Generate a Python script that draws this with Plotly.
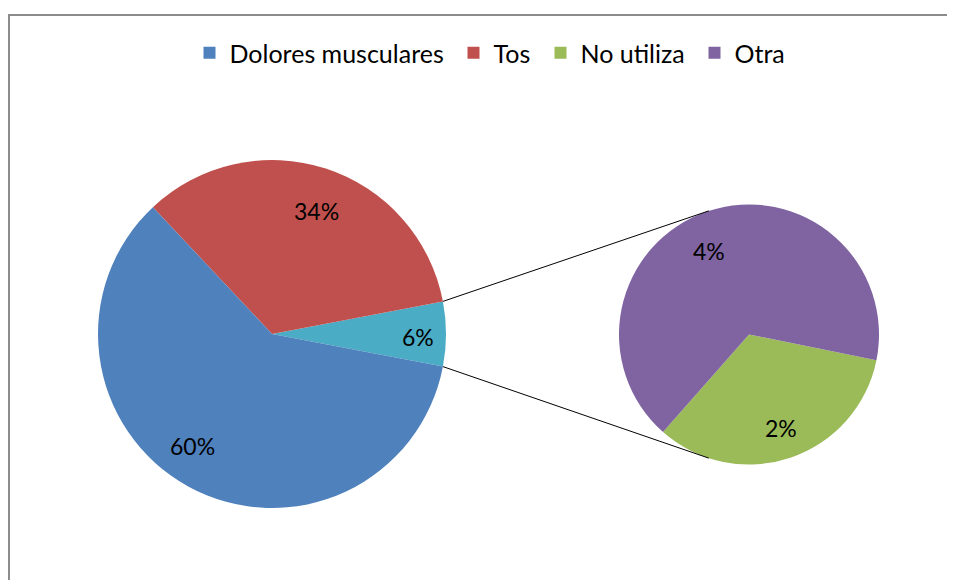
import math
import plotly.graph_objects as go

# ---------------- data ----------------
main_labels = ["Otros", "Tos", "Dolores musculares"]
main_values = [6, 34, 60]
main_colors = ["#4BACC6", "#C0504D", "#4F81BD"]

sec_labels = ["No utiliza", "Otra"]
sec_values = [2, 4]
sec_colors = ["#9BBB59", "#8064A2"]

legend_labels = ["Dolores musculares", "Tos", "No utiliza", "Otra"]
legend_colors = ["#4F81BD", "#C0504D", "#9BBB59", "#8064A2"]

# ---------------- layout geometry (page pixels) ----------------
OFF = 8                    # default page margin around the plot div
W, H = 947, 572            # figure size (fits the 955x580 window)
MAIN_C, MAIN_R = (272.0, 334.0), 174.0
SEC_C, SEC_R = (749.0, 334.5), 130.0
SEC_START = 228.6          # math angle where the secondary pie starts (ccw)
CONNECT_ANGLE = 108.0      # where connector lines meet the secondary pie
FONT = "Lato"
LEG_SQ_X = [210, 474, 561, 715]   # legend square centres
LEG_Y = 53

# label placement (radial fraction, angle tweak in degrees)
main_lab_frac = [0.84, 0.75, 0.79]
main_lab_tweak = [-1.0, -2.0, -6.5]
sec_lab_frac = [0.76, 0.71]
sec_lab_tweak = [0.0, 7.0]


def px_to_paper(x, y):
    return (x - OFF) / W, 1 - (y - OFF) / H


def domain(c, r):
    x0, y1 = px_to_paper(c[0] - r, c[1] - r)
    x1, y0 = px_to_paper(c[0] + r, c[1] + r)
    return dict(x=[x0, x1], y=[y0, y1])


def ccw_rotation(start_math, first_value, total):
    # plotly: for counterclockwise pies, rotation is where the first slice ends
    span0 = first_value / total * 360
    r = 90 - start_math - span0
    while r < -360:
        r += 360
    while r > 360:
        r -= 360
    return r


main_total = sum(main_values)
sec_total = sum(sec_values)
other_share = main_values[0] / main_total
main_start = -other_share * 360 / 2  # "other" slice centred on the horizontal

fig = go.Figure()

fig.add_trace(go.Pie(
    labels=main_labels, values=main_values, sort=False,
    direction="counterclockwise",
    rotation=ccw_rotation(main_start, main_values[0], main_total),
    marker=dict(colors=main_colors, line=dict(width=0)),
    textinfo="none", hoverinfo="label+percent", showlegend=False,
    domain=domain(MAIN_C, MAIN_R),
))

fig.add_trace(go.Pie(
    labels=sec_labels, values=sec_values, sort=False,
    direction="counterclockwise",
    rotation=ccw_rotation(SEC_START, sec_values[0], sec_total),
    marker=dict(colors=sec_colors, line=dict(width=0)),
    textinfo="none", hoverinfo="label", showlegend=False,
    domain=domain(SEC_C, SEC_R),
))

legend_names = ["legend", "legend2", "legend3", "legend4"]
for lab, col, lg in zip(legend_labels, legend_colors, legend_names):
    fig.add_trace(go.Scatter(
        x=[None], y=[None], mode="markers", name=lab, legend=lg,
        marker=dict(symbol="square", size=12, color=col),
    ))

annotations = []


def add_labels(values, total, start, center, r, fracs, tweaks):
    cum = start
    for v, f, t in zip(values, fracs, tweaks):
        span = v / total * 360
        mid = math.radians(cum + span / 2 + t)
        x = center[0] + f * r * math.cos(mid)
        y = center[1] - f * r * math.sin(mid)
        px, py = px_to_paper(x, y)
        annotations.append(dict(
            x=px, y=py, xref="paper", yref="paper",
            xanchor="center", yanchor="middle",
            text=f"{round(v / main_total * 100)}%", showarrow=False,
            font=dict(family=FONT, size=23, color="#000000"),
        ))
        cum += span


add_labels(main_values, main_total, main_start, MAIN_C, MAIN_R,
           main_lab_frac, main_lab_tweak)
add_labels(sec_values, sec_total, SEC_START, SEC_C, SEC_R,
           sec_lab_frac, sec_lab_tweak)

shapes = []
# border
bx0, by0 = px_to_paper(9.0, 15.0)
shapes.append(dict(type="rect", xref="paper", yref="paper",
                   x0=bx0, y0=by0, x1=1.05, y1=-0.05,
                   line=dict(color="#8C8C8C", width=2), layer="below"))
# connector lines
half = math.radians(other_share * 360 / 2)
for sgn in (1, -1):
    x0 = MAIN_C[0] + MAIN_R * math.cos(sgn * half)
    y0 = MAIN_C[1] - MAIN_R * math.sin(sgn * half)
    a = math.radians(sgn * CONNECT_ANGLE)
    x1 = SEC_C[0] + SEC_R * math.cos(a)
    y1 = SEC_C[1] - SEC_R * math.sin(a)
    p0 = px_to_paper(x0, y0)
    p1 = px_to_paper(x1, y1)
    shapes.append(dict(type="line", xref="paper", yref="paper",
                       x0=p0[0], y0=p0[1], x1=p1[0], y1=p1[1],
                       line=dict(color="#000000", width=1)))

legend_layout = {}
for lg, sx in zip(legend_names, LEG_SQ_X):
    lx, ly = px_to_paper(sx - 20.5, LEG_Y)
    legend_layout[lg] = dict(
        orientation="h", x=lx, xanchor="left", y=ly, yanchor="middle",
        font=dict(family=FONT, size=25, color="#000000"),
        bgcolor="rgba(0,0,0,0)",
    )

fig.update_layout(
    width=W, height=H,
    margin=dict(l=0, r=0, t=0, b=0),
    paper_bgcolor="white", plot_bgcolor="white",
    xaxis=dict(visible=False), yaxis=dict(visible=False),
    font=dict(family=FONT, color="#000000"),
    annotations=annotations,
    shapes=shapes,
    **legend_layout,
)

fig.write_html("out.html")
